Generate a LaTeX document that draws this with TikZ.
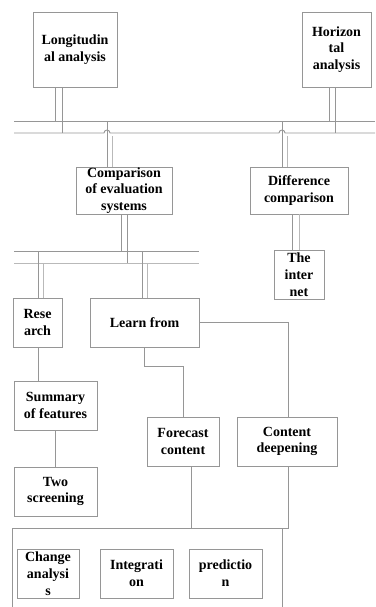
\documentclass[tikz,border=0pt]{standalone}
\usepackage{fontspec}
\setmainfont{Liberation Serif}
\definecolor{lg}{RGB}{150,150,150}
\definecolor{lg2}{RGB}{185,185,185}
\begin{document}
\begin{tikzpicture}[x=1pt,y=-1pt,
  box/.style={draw=lg, line width=0.9pt, fill=white, align=center, inner sep=0pt,
    font=\fontsize{14}{16.8}\selectfont\bfseries},
  ln/.style={draw=lg, line width=0.9pt},
  ln2/.style={draw=lg2, line width=1pt}]
\useasboundingbox (0,0) rectangle (375,607);
% boxes
\node[box, minimum width=84, minimum height=75] (lon) at (75,49.5) {Longitudin\\al analysis};
\node[box, minimum width=69, minimum height=75] (hor) at (336.5,49.5) {Horizon\\tal\\analysis};
\node[box, minimum width=96, minimum height=47] (cmp) at (124,190.5) {Comparison\\of evaluation\\systems};
\node[box, minimum width=98, minimum height=47] (dif) at (299,190.5) {Difference\\comparison};
\node[box, minimum width=50, minimum height=49] (net) at (299,274.5) {The\\inter\\net};
\node[box, minimum width=49, minimum height=49] (res) at (37.5,322.5) {Rese\\arch};
\node[box, minimum width=109, minimum height=49] (lrn) at (144.5,322.5) {Learn from};
\node[box, minimum width=83, minimum height=49] (sum) at (55.5,405.5) {Summary\\of features};
\node[box, minimum width=83, minimum height=49] (two) at (55.5,491.5) {Two\\screening};
\node[box, minimum width=72, minimum height=49] (fc) at (183,441.5) {Forecast\\content};
\node[box, minimum width=100, minimum height=49] (cd) at (287,441.5) {Content\\deepening};
\node[box, minimum width=62, minimum height=49] (chg) at (48,573.5) {Change\\analysi\\s};
\node[box, minimum width=73, minimum height=49] (int) at (136.5,573.5) {Integrati\\on};
\node[box, minimum width=73, minimum height=49] (pre) at (225.5,573.5) {predictio\\n};
% top bus
\coordinate (b1L) at (14,121); \coordinate (b1R) at (375,121);
\coordinate (b2L) at (14,133); \coordinate (b2R) at (375,133);
\draw[ln] (b1L) -- (b1R);
\draw[ln] (b2L) -- (104,133) arc[start angle=180,end angle=0,radius=3pt] -- (279,133)
  arc[start angle=180,end angle=0,radius=3pt] -- (b2R);
\draw[ln] (lon.south -| 55,0) -- (55,121);
\draw[ln] (lon.south -| 62,0) -- (62,133);
\draw[ln] (hor.south -| 329,0) -- (329,121);
\draw[ln] (hor.south -| 335,0) -- (335,133);
\draw[ln] (107,121) -- (cmp.north -| 107,0);
\draw[ln2] (112,136) -- (cmp.north -| 112,0);
\draw[ln] (282,121) -- (dif.north -| 282,0);
\draw[ln2] (287,136) -- (dif.north -| 287,0);
% difference -> internet
\draw[ln] (dif.south -| 292,0) -- (net.north -| 292,0);
\draw[ln2] (dif.south -| 299,0) -- (net.north -| 299,0);
% second bus
\coordinate (c1L) at (14,251); \coordinate (c1R) at (199,251);
\coordinate (c2L) at (14,263); \coordinate (c2R) at (199,263);
\draw[ln] (c1L) -- (c1R);
\draw[ln2] (c2L) -- (c2R);
\draw[ln] (cmp.south -| 121,0) -- (121,251);
\draw[ln] (cmp.south -| 127,0) -- (127,263);
\draw[ln] (38,251) -- (res.north -| 38,0);
\draw[ln2] (43,263) -- (res.north -| 43,0);
\draw[ln] (142,251) -- (lrn.north -| 142,0);
\draw[ln2] (147,263) -- (lrn.north -| 147,0);
% tree below
\draw[ln] (res.south -| 38,0) -- (sum.north -| 38,0);
\draw[ln] (sum.south) -- (two.north);
\draw[ln] (lrn.east) -| (cd.north -| 288,0);
\draw[ln] (lrn.south -| 144,0) -- (144,366) -- (183,366) -- (fc.north);
\draw[ln] (fc.south -| 191,0) -- (191,528);
\draw[ln] (cd.south -| 288,0) -- (288,528) -- (282,528);
% container
\draw[ln] (12,610) -- (12,528) -- (282,528) -- (282,610);
\end{tikzpicture}
\end{document}
